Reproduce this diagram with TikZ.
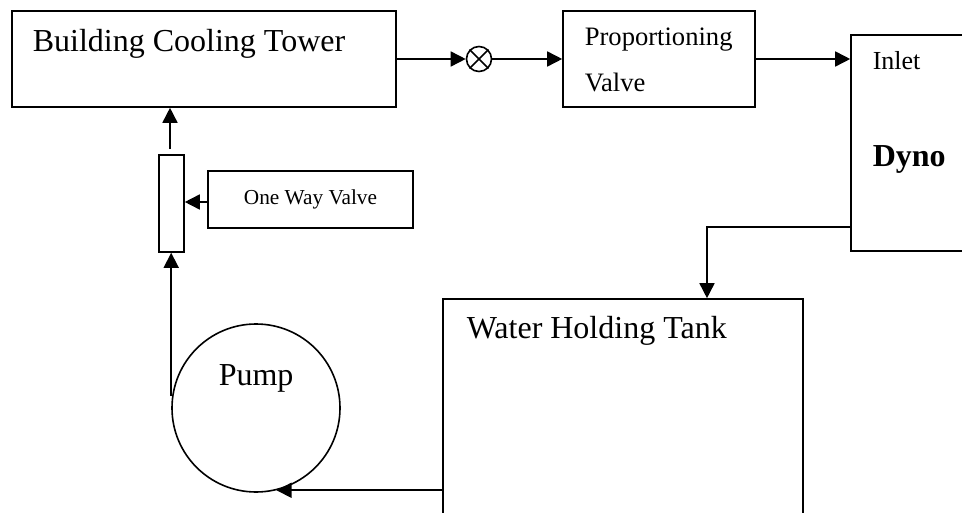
\documentclass[tikz,border=0pt]{standalone}
\usepackage{fontspec}
\setmainfont{Liberation Serif}
\usetikzlibrary{arrows.meta,calc}
\begin{document}
\begin{tikzpicture}[x=1pt,y=-1pt,
  line width=1.6pt,
  box/.style={draw,rectangle,inner sep=0pt,line width=1.6pt},
  lbl/.style={anchor=base west,inner sep=0pt},
  flow/.style={-{Triangle[length=15pt,width=15pt]},line width=1.6pt}]
\clip (0,0) rectangle (962,513);
% boxes
\node[box,minimum width=384pt,minimum height=96pt] (bct) at (204,59) {};
\node[box,minimum width=192pt,minimum height=96pt] (prop) at (659,59) {};
\node[box,minimum width=140pt,minimum height=216pt] (dyno) at (921,143) {};
\node[box,minimum width=360pt,minimum height=260pt] (tank) at (623,429) {};
\node[box,minimum width=25pt,minimum height=97pt] (valve) at (171.5,203.5) {};
\node[box,minimum width=205pt,minimum height=57pt] (owv) at (310.5,199.5) {};
\node[draw,circle,minimum size=168pt,inner sep=0pt,line width=1.6pt] (pump) at (256,408) {};
\node[draw,circle,minimum size=25pt,inner sep=0pt,line width=1.6pt] (jct) at (479,59) {};
\draw (jct.45) -- (jct.225) (jct.135) -- (jct.315);
% texts
\node[lbl,font=\fontsize{32}{32}\selectfont] (tbct) at (32,52) {Building Cooling Tower};
\node[lbl,font=\fontsize{26.6}{26.6}\selectfont] (tprop1) at (584,46) {Proportioning};
\node[lbl,font=\fontsize{26.6}{26.6}\selectfont] (tprop2) at (584,92) {Valve};
\node[lbl,font=\fontsize{26}{26}\selectfont] (tinlet) at (872,70) {Inlet};
\node[lbl,font=\fontsize{32}{32}\selectfont\bfseries] (tdyno) at (872,167) {Dyno};
\node[lbl,font=\fontsize{32}{32}\selectfont] (ttank) at (466,338) {Water Holding Tank};
\node[lbl,font=\fontsize{32}{32}\selectfont] (tpump) at (218,385) {Pump};
\node[font=\fontsize{21.3}{21.3}\selectfont,inner sep=0pt] (towv) at (owv.center) {One Way Valve};
% connectors
\draw[flow] (bct.east) -- (jct.west);
\draw[flow] (jct.east) -- (prop.west);
\draw[flow] (prop.east) -- (prop.east -| dyno.west);
\coordinate (dout) at (dyno.west |- 0,227);
\coordinate (dbend) at (707,227);
\draw[flow] (dout) -- (dbend) -- (dbend |- tank.north);
\coordinate (tout) at (pump.-76 -| tank.west);
\draw[flow] (tout) -- (pump.-76);
\coordinate (pl) at ($(pump.west)+(0,-12)$);
\draw[flow] (pl) -- (pl |- valve.south);
\draw[flow] (valve.north -| 170,0) ++(0,-5) coordinate (vtop) -- (vtop |- bct.south);
\draw[flow] (owv.west |- 0,202) -- (valve.east |- 0,202);
\end{tikzpicture}
\end{document}
